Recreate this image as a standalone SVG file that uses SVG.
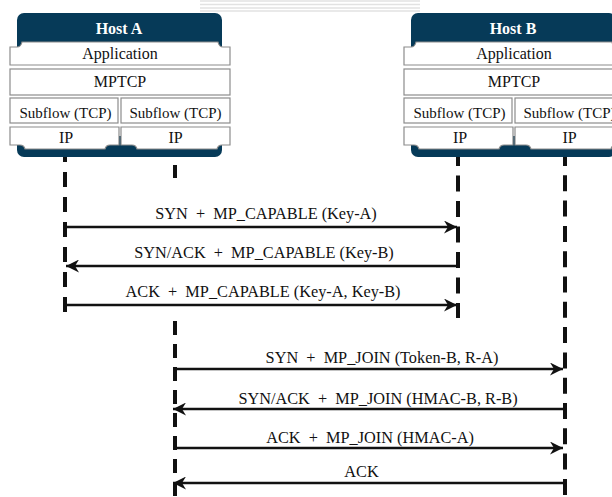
<svg xmlns="http://www.w3.org/2000/svg" width="612" height="497" viewBox="0 0 612 497">
<style>
  text { font-family: "Liberation Serif", "Times New Roman", serif; fill: #111; }
  .hdr { font-size: 16px; font-weight: bold; fill: #ffffff; text-anchor: middle; }
  .lay { font-size: 16px; text-anchor: middle; }
  .sub { font-size: 15px; text-anchor: middle; }
  .lbl { font-size: 16.3px; text-anchor: middle; white-space: pre; }
  .dark { fill: #063a58; }
  .box { fill: #ffffff; stroke: #8c8c8c; stroke-width: 1.2; }
  .life { stroke: #111; stroke-width: 4; fill: none; }
  .msg { stroke: #111; stroke-width: 2.5; fill: none; marker-end: url(#arr); }
  .wm { stroke: #e2e2e2; stroke-width: 1.5; }
</style>
<defs>
  <marker id="arr" viewBox="0 0 13 13" markerWidth="13" markerHeight="13" refX="13" refY="6.5" orient="auto" markerUnits="userSpaceOnUse">
    <path d="M0,0 L13,6.5 L0,13 L4,6.5 Z" fill="#111"/>
  </marker>
  <g id="host">
    <rect class="dark" x="17" y="13" width="205" height="144" rx="7"/>
    <rect x="10" y="63" width="220" height="73" fill="#ffffff"/>
    <path class="box" d="M10,65 V47 H17 Q21,47 22,42 H218 Q219,47 223,47 H230 V65 Z"/>
    <rect class="box" x="10" y="69" width="220" height="26"/>
    <rect class="box" x="10" y="98" width="108" height="25"/>
    <rect class="box" x="121" y="98" width="109" height="25"/>
    <path class="box" d="M10,127 H119 V145 H110 Q106,145 105,149 H25 Q24,145 20,145 H10 Z"/>
    <path class="box" d="M121,127 H230 V145 H222 Q218,145 217,149 H137 Q136,145 132,145 H121 Z"/>
    <text class="lay" x="120" y="58.5">Application</text>
    <text class="lay" x="120" y="87">MPTCP</text>
    <text class="sub" x="65.5" y="117.5">Subflow (TCP)</text>
    <text class="sub" x="175.5" y="117.5">Subflow (TCP)</text>
    <text class="lay" x="66" y="143">IP</text>
    <text class="lay" x="175.5" y="143">IP</text>
  </g>
</defs>

<g id="watermark">
  <line class="wm" x1="200" y1="1" x2="420" y2="1"/>
  <line class="wm" x1="200" y1="4.5" x2="420" y2="4.5"/>
  <line class="wm" x1="200" y1="8" x2="420" y2="8"/>
  <line class="wm" x1="200" y1="11" x2="420" y2="11"/>
</g>

<g id="lifelines">
  <line class="life" x1="65" y1="147" x2="65" y2="313" stroke-dasharray="15 10"/>
  <line class="life" x1="175" y1="165" x2="175" y2="178"/>
  <line class="life" x1="175" y1="321" x2="175" y2="497" stroke-dasharray="14 9"/>
  <line class="life" x1="458" y1="150" x2="458" y2="318" stroke-dasharray="16 9.5"/>
  <line class="life" x1="565" y1="150" x2="565" y2="497" stroke-dasharray="16 9.3"/>
</g>

<g id="hostA">
  <use href="#host"/>
  <text class="hdr" x="119" y="33.5">Host A</text>
</g>
<g id="hostB">
  <use href="#host" transform="translate(394,0)"/>
  <text class="hdr" x="513" y="33.5">Host B</text>
</g>

<g id="connectors">
  <line class="msg" x1="65" y1="227" x2="457" y2="227"/>
  <line class="msg" x1="458" y1="266" x2="66" y2="266"/>
  <line class="msg" x1="67" y1="305" x2="457" y2="305"/>
  <line class="msg" x1="175" y1="369" x2="563" y2="369"/>
  <line class="msg" x1="565" y1="409" x2="173" y2="409"/>
  <line class="msg" x1="175" y1="448" x2="563" y2="448"/>
  <line class="msg" x1="565" y1="483" x2="173" y2="483"/>
</g>

<g id="labels">
  <text class="lbl" x="266" y="219" xml:space="preserve">SYN  +  MP_CAPABLE (Key-A)</text>
  <text class="lbl" x="264" y="258" xml:space="preserve">SYN/ACK  +  MP_CAPABLE (Key-B)</text>
  <text class="lbl" x="263" y="297" xml:space="preserve">ACK  +  MP_CAPABLE (Key-A, Key-B)</text>
  <text class="lbl" x="382" y="363" xml:space="preserve">SYN  +  MP_JOIN (Token-B, R-A)</text>
  <text class="lbl" x="378" y="404" xml:space="preserve">SYN/ACK  +  MP_JOIN (HMAC-B, R-B)</text>
  <text class="lbl" x="370" y="443" xml:space="preserve">ACK  +  MP_JOIN (HMAC-A)</text>
  <text class="lbl" x="361.5" y="477">ACK</text>
</g>
</svg>
